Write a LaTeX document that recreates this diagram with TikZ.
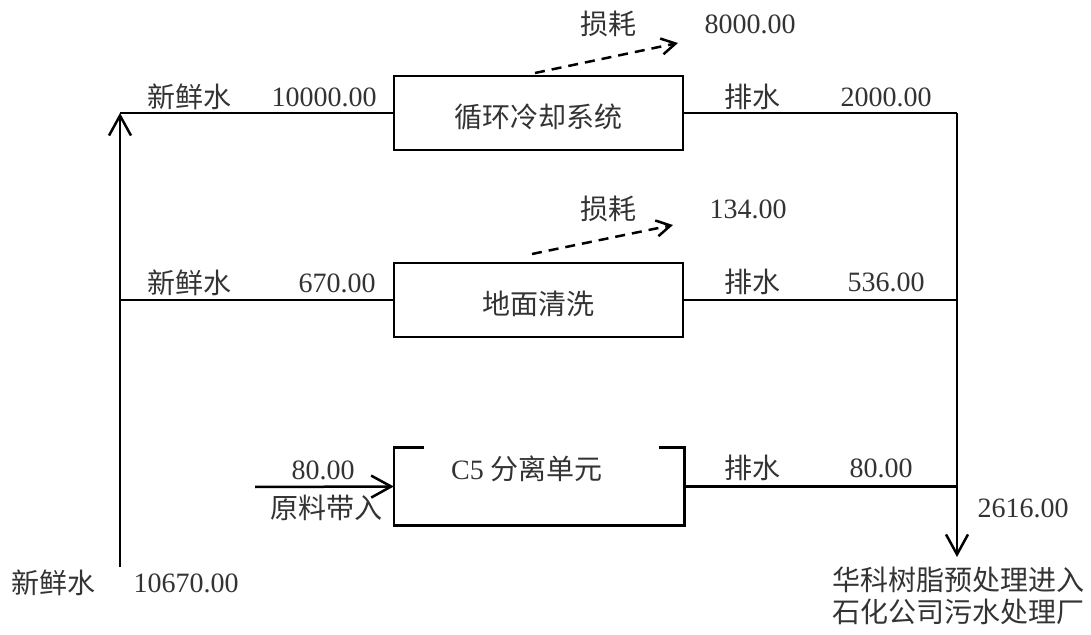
\documentclass[tikz,border=0pt]{standalone}
\usepackage{fontspec}
\setmainfont{Liberation Serif}
\newfontfamily\cjk{Noto Sans CJK SC}
\usetikzlibrary{arrows.meta,calc}

\begin{document}
\begin{tikzpicture}[x=0.5pt,y=-0.5pt,line width=1.25pt,
        every node/.style={inner sep=0pt,text=black!80,font=\fontsize{14}{16}\selectfont},
        zh/.style={font=\cjk\fontsize{14}{16}\selectfont},
        unit/.style={draw=black,minimum width=144.5pt,minimum height=37pt,text height=17pt,text depth=2pt},
        flow/.style={-{Straight Barb[length=10pt,width=11pt]}},
        loss/.style={dash pattern=on 5pt off 3.5pt,-{Straight Barb[length=7pt,width=8pt]}}]
        \useasboundingbox (0,0) rectangle (1091,635);
        \node [unit,zh] (cool) at (538.5,113) {循环冷却系统};
        \node [unit,zh] (clean) at (538.5,300) {地面清洗};
        \node [minimum width=144pt,minimum height=37.5pt] (c5) at (539,486.5) {};
        \draw [black] ($(c5.north west)+(30,0)$) -- (c5.north west) -- (c5.south west) -- (c5.south east) -- (c5.north east) -- ++(-25,0);
        \node (c5name) at (527,469) {C5 {\cjk 分离单元}};
        \coordinate (src) at (120,567);
        \coordinate (tl) at (120,113);
        \coordinate (tr) at (957,113);
        \coordinate (sink) at (957,557);
        \coordinate (feed) at (255,487);
        \coordinate (l1s) at (535,73);
        \coordinate (l1e) at (678,43);
        \coordinate (l2s) at (532,254);
        \coordinate (l2e) at (673,225);
        \draw [black,flow] (src) -- (tl);
        \draw [black] (tl) -- (cool.west);
        \draw [black] (src |- clean.west) -- (clean.west);
        \draw [black] (cool.east) -- (tr);
        \draw [black,flow] (tr) -- (sink);
        \draw [black] (clean.east) -- (sink |- clean.east);
        \draw [black] (c5.east) -- (sink |- c5.east);
        \draw [black,flow] (feed) -- (c5.west);
        \draw [black,loss] (l1s) -- (l1e);
        \draw [black,loss] (l2s) -- (l2e);
        \node [zh] (in1) at (189,97) {新鲜水};
        \node (in1v) at (324,97) {10000.00};
        \node [zh] (in2) at (189,283) {新鲜水};
        \node (in2v) at (337,283) {670.00};
        \node [zh] (out1) at (752,97) {排水};
        \node (out1v) at (886,97) {2000.00};
        \node [zh] (out2) at (752,282) {排水};
        \node (out2v) at (886,282) {536.00};
        \node [zh] (out3) at (752,468) {排水};
        \node (out3v) at (881,468) {80.00};
        \node [zh] (loss1) at (608,24) {损耗};
        \node (loss1v) at (750,24) {8000.00};
        \node [zh] (loss2) at (608,209) {损耗};
        \node (loss2v) at (748,209) {134.00};
        \node (feedv) at (323,470) {80.00};
        \node [zh] (feedn) at (326,508) {原料带入};
        \node (sinkv) at (1023,508) {2616.00};
        \node [zh,align=center] (sinkn) at (958,596) {华科树脂预处理进入\\石化公司污水处理厂};
        \node [zh] (srcn) at (53,583) {新鲜水};
        \node (srcv) at (186,583) {10670.00};
\end{tikzpicture}
\end{document}
